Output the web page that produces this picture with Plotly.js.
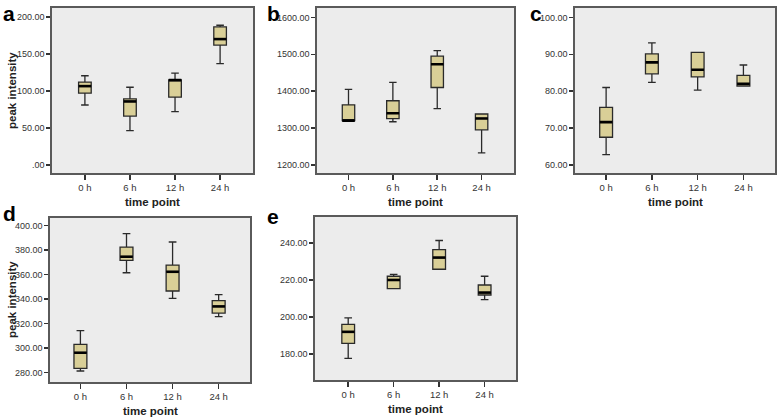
<!DOCTYPE html>
<html><head><meta charset="utf-8">
<script src="https://cdn.plot.ly/plotly-3.0.1.min.js"></script>
<style>html,body{margin:0;padding:0;background:#fff}#chart{width:778px;height:418px}</style>
</head><body><div id="chart"></div>
<script>
const timeLabels = ['0 h','6 h','12 h','24 h'];

// Panel a
const aLower = [81, 46.5, 72, 137];
const aQ1    = [97, 66, 91.6, 162];
const aMed   = [106.5, 85.8, 114.7, 170];
const aQ3    = [112, 89.4, 115, 186.5];
const aUpper = [120.5, 105, 124, 188.7];
const aTicks = [0, 50, 100, 150, 200];
const aTickText = ['.00','50.00','100.00','150.00','200.00'];

// Panel b
const bLower = [1320, 1317, 1352.6, 1232.5];
const bQ1    = [1320, 1325.5, 1410, 1295];
const bMed   = [1320, 1340, 1473, 1326];
const bQ3    = [1363, 1374, 1495, 1338];
const bUpper = [1405, 1424, 1510, 1338];
const bTicks = [1200, 1300, 1400, 1500, 1600];
const bTickText = ['1200.00','1300.00','1400.00','1500.00','1600.00'];

// Panel c
const cLower = [62.8, 82.4, 80.3, 81.4];
const cQ1    = [67.5, 84.7, 83.9, 81.4];
const cMed   = [71.6, 87.8, 85.8, 82.0];
const cQ3    = [75.6, 90.1, 90.5, 84.3];
const cUpper = [81, 93.1, 90.5, 87.1];
const cTicks = [60, 70, 80, 90, 100];
const cTickText = ['60.00','70.00','80.00','90.00','100.00'];

// Panel d
const dLower = [281.4, 361.6, 340.7, 325.7];
const dQ1    = [283.5, 371.7, 346.7, 328.7];
const dMed   = [296.3, 374.7, 362.4, 334.1];
const dQ3    = [303.1, 382.6, 367.9, 338.8];
const dUpper = [314.3, 393.5, 386.7, 343.7];
const dTicks = [280, 300, 320, 340, 360, 380, 400];
const dTickText = ['280.00','300.00','320.00','340.00','360.00','380.00','400.00'];

// Panel e
const eLower = [177.7, 215.3, 225.8, 209.4];
const eQ1    = [185.8, 215.3, 225.8, 211.9];
const eMed   = [192, 220, 232.1, 213.2];
const eQ3    = [196, 222, 236.4, 217.3];
const eUpper = [199.5, 223, 241.3, 222];
const eTicks = [180, 200, 220, 240];
const eTickText = ['180.00','200.00','220.00','240.00'];

const panelLetters = ['a','b','c','d','e'];
const xTitle = 'time point';
const yTitle = 'peak intensity';

const W = 778, H = 418;
const FONT = '"Liberation Sans", Arial, sans-serif';
const BOXFILL = '#d9cf97';

const panels = [
  {lo:aLower,q1:aQ1,md:aMed,q3:aQ3,hi:aUpper,tv:aTicks,tt:aTickText, px:[52,253], py:[8,173], xr:[-0.73,3.73], yr:[-10.8,212]},
  {lo:bLower,q1:bQ1,md:bMed,q3:bQ3,hi:bUpper,tv:bTicks,tt:bTickText, px:[317,514], py:[7.5,173], xr:[-0.71,3.73], yr:[1178,1627]},
  {lo:cLower,q1:cQ1,md:cMed,q3:cQ3,hi:cUpper,tv:cTicks,tt:cTickText, px:[575,775], py:[7.5,173], xr:[-0.68,3.69], yr:[57.8,102.7]},
  {lo:dLower,q1:dQ1,md:dMed,q3:dQ3,hi:dUpper,tv:dTicks,tt:dTickText, px:[50,250], py:[218,382], xr:[-0.66,3.68], yr:[272.4,406.3]},
  {lo:eLower,q1:eQ1,md:eMed,q3:eQ3,hi:eUpper,tv:eTicks,tt:eTickText, px:[315,516], py:[217,380], xr:[-0.73,3.69], yr:[166,254]}
];
// top edge of each letter's text box (px from top)
const letterPos = [[1,0],[265,0],[528,0],[1,200],[265,203]];

const data = [];
const layout = {
  width: W, height: H,
  margin: {l:0,r:0,t:0,b:0},
  paper_bgcolor: '#ffffff',
  plot_bgcolor: '#ececec',
  showlegend: false,
  annotations: []
};

panels.forEach((p, i) => {
  const n = i + 1;
  const xa = n === 1 ? 'x' : 'x' + n;
  const ya = n === 1 ? 'y' : 'y' + n;
  data.push({
    type: 'box', x: timeLabels, q1: p.q1, median: p.md, q3: p.q3,
    lowerfence: p.lo, upperfence: p.hi,
    xaxis: xa, yaxis: ya,
    fillcolor: BOXFILL,
    line: {color: '#2a2a2a', width: 1.3},
    whiskerwidth: 0.6, width: 0.28,
    boxpoints: false, hoverinfo: 'skip'
  });
  data.push({
    type: 'scatter', mode: 'markers', x: timeLabels, y: p.md,
    xaxis: xa, yaxis: ya,
    marker: {symbol: 'line-ew', size: 9, color: '#000', line: {color: '#000', width: 2.6}},
    hoverinfo: 'skip'
  });
  const xKey = n === 1 ? 'xaxis' : 'xaxis' + n;
  const yKey = n === 1 ? 'yaxis' : 'yaxis' + n;
  layout[xKey] = {
    domain: [p.px[0]/W, p.px[1]/W], anchor: ya,
    type: 'category', range: p.xr,
    showline: true, mirror: true, linecolor: '#5a5a5a', linewidth: 1.6,
    ticks: 'outside', ticklen: 5, tickwidth: 1.5, tickcolor: '#333',
    showgrid: false, zeroline: false, fixedrange: true,
    tickfont: {family: FONT, size: 9.5, color: '#333'}
  };
  layout[yKey] = {
    domain: [1 - p.py[1]/H, 1 - p.py[0]/H], anchor: xa,
    range: p.yr, tickmode: 'array', tickvals: p.tv, ticktext: p.tt,
    showline: true, mirror: true, linecolor: '#5a5a5a', linewidth: 1.6,
    ticks: 'outside', ticklen: 4, tickwidth: 1.5, tickcolor: '#333',
    showgrid: false, zeroline: false, fixedrange: true,
    tickfont: {family: FONT, size: 9, color: '#333'}
  };
  layout.annotations.push({
    xref: 'paper', yref: 'paper', x: (p.px[0]+p.px[1])/2/W, y: 1 - (p.py[1]+29)/H,
    text: '<b>' + xTitle + '</b>', showarrow: false, xanchor: 'center', yanchor: 'middle',
    font: {family: FONT, size: 11.5, color: '#222'}
  });
  layout.annotations.push({
    xref: 'paper', yref: 'paper', x: letterPos[i][0]/W, y: 1 - letterPos[i][1]/H,
    text: '<b>' + panelLetters[i] + '</b>', showarrow: false, xanchor: 'left', yanchor: 'top',
    font: {family: FONT, size: 21, color: '#000'}
  });
});

[[0, 91],[3, 300]].forEach(([i, cy]) => {
  layout.annotations.push({
    xref: 'paper', yref: 'paper', x: 12/W, y: 1 - cy/H,
    text: '<b>' + yTitle + '</b>', showarrow: false, textangle: -90,
    xanchor: 'center', yanchor: 'middle',
    font: {family: FONT, size: 11.5, color: '#222'}
  });
});

Plotly.newPlot('chart', data, layout, {displayModeBar: false, staticPlot: true});
</script>
</body></html>
